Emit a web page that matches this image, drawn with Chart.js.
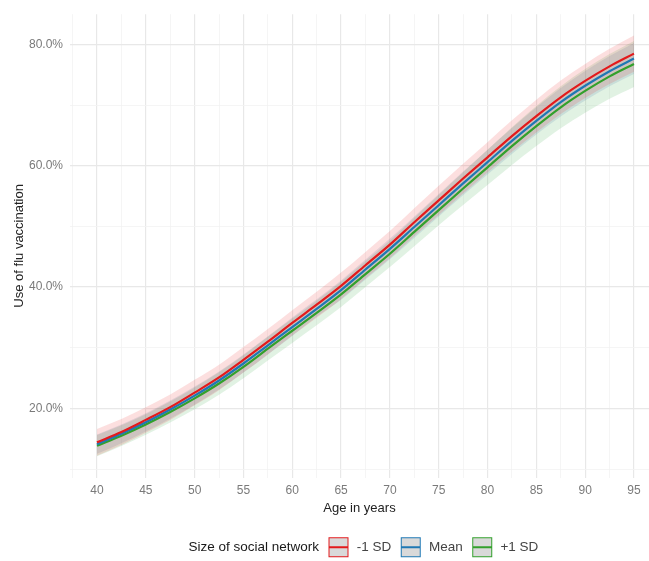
<!DOCTYPE html>
<html><head><meta charset="utf-8">
<script src="https://cdn.jsdelivr.net/npm/chart.js@4.4.1/dist/chart.umd.min.js"></script>
<style>html,body{margin:0;padding:0;background:#fff;overflow:hidden}</style>
</head><body>
<div style="width:649px;height:561px;position:relative"><canvas id="c"></canvas></div>
<script>
// ---- data ----
const ages = [40,42.5,45,47.5,50,52.5,55,57.5,60,62.5,65,67.5,70,72.5,75,77.5,80,82.5,85,87.5,90,92.5,95];
const seriesNames = ['-1 SD','Mean','+1 SD'];
const legendTitle = 'Size of social network';
const lowSD  = [14.4,16.1,18.1,20.2,22.6,25.1,28.0,31.0,34.1,37.1,40.2,43.6,47.0,50.7,54.3,57.9,61.4,64.9,68.2,71.3,74.0,76.4,78.5];
const meanSD = [14.1,15.8,17.7,19.8,22.1,24.6,27.4,30.4,33.4,36.4,39.5,42.9,46.3,49.9,53.5,57.1,60.6,64.1,67.4,70.5,73.2,75.6,77.7];
const highSD = [13.85,15.5,17.35,19.4,21.65,24.1,26.85,29.85,32.8,35.75,38.8,42.15,45.5,49.1,52.7,56.25,59.75,63.25,66.55,69.65,72.35,74.75,76.8];
const lowSDUpper  = [16.6,18.25,20.2,22.3,24.7,27.2,30.1,33.1,36.2,39.25,42.4,45.8,49.25,53.0,56.7,60.35,63.9,67.5,70.9,74.05,76.8,79.3,81.5];
const lowSDLower  = [12.2,13.95,16.0,18.1,20.5,23.0,25.9,28.9,32.0,34.95,38.0,41.4,44.75,48.4,51.9,55.45,58.9,62.3,65.5,68.55,71.2,73.5,75.5];
const meanUpper   = [15.7,17.35,19.2,21.3,23.6,26.1,28.9,31.9,35.0,38.0,41.1,44.55,48.0,51.65,55.35,59.05,62.65,66.25,69.65,72.85,75.65,78.1,80.25];
const meanLower   = [12.5,14.25,16.2,18.3,20.6,23.1,25.9,28.9,31.95,35.1,37.9,41.25,44.6,48.1,51.65,55.15,58.55,61.95,65.15,68.15,70.75,73.1,75.15];
const highSDUpper = [15.6,17.2,19.05,21.15,23.45,25.95,28.75,31.8,34.8,37.8,40.9,44.3,47.7,51.45,55.2,58.95,62.65,66.35,69.85,73.1,75.95,78.45,80.6];
const highSDLower = [12.1,13.8,15.65,17.65,19.85,22.25,24.95,27.9,30.8,33.7,36.7,40.0,43.3,46.75,50.2,53.55,56.85,60.15,63.25,66.2,68.75,71.05,73.0];
const xGridValues = [37.5,40,42.5,45,47.5,50,52.5,55,57.5,60,62.5,65,67.5,70,72.5,75,77.5,80,82.5,85,87.5,90,92.5,95];
const xTickValues = [40,45,50,55,60,65,70,75,80,85,90,95];
const xTickLabels = ['40','45','50','55','60','65','70','75','80','85','90','95'];
const yGridValues = [10,20,30,40,50,60,70,80];
const yTickValues = [20,40,60,80];
const yTickLabels = ['20.0%','40.0%','60.0%','80.0%'];

const lineColors = ['#E31A1C','#1F78B4','#33A02C'];
const bandColors = ['rgba(235,40,40,0.15)','rgba(60,110,160,0.15)','rgba(51,170,70,0.15)'];

const pts = arr => ages.map((a,i)=>({x:a,y:arr[i]}));

function keyImage(color){
  const c=document.createElement('canvas'); c.width=44; c.height=22;
  const g=c.getContext('2d');
  g.fillStyle='#d9d9d9'; g.fillRect(1,1,20,20);
  g.strokeStyle=color; g.lineWidth=1; g.strokeRect(1.5,1.5,19,19);
  g.beginPath(); g.moveTo(2,11); g.lineTo(20,11); g.lineWidth=2; g.stroke();
  return c;
}
const blank=document.createElement('canvas'); blank.width=1; blank.height=1;

const lineDs = (label,arr,col)=>({label,data:pts(arr),borderColor:col,borderWidth:2.2,pointRadius:0,fill:false,cubicInterpolationMode:'monotone'});
const edgeDs = (arr)=>({label:'edge',data:pts(arr),borderWidth:0,borderColor:'rgba(0,0,0,0)',pointRadius:0,fill:false,cubicInterpolationMode:'monotone'});
const bandDs = (arr,col)=>({label:'band',data:pts(arr),borderWidth:0,borderColor:'rgba(0,0,0,0)',pointRadius:0,fill:'-1',backgroundColor:col,cubicInterpolationMode:'monotone'});

const datasets = [
  lineDs(seriesNames[0],lowSD,lineColors[0]),
  lineDs(seriesNames[1],meanSD,lineColors[1]),
  lineDs(seriesNames[2],highSD,lineColors[2]),
  edgeDs(lowSDLower), bandDs(lowSDUpper,bandColors[0]),
  edgeDs(meanLower), bandDs(meanUpper,bandColors[1]),
  edgeDs(highSDLower), bandDs(highSDUpper,bandColors[2])
];

const FONT = '"Liberation Sans", Arial, sans-serif';

new Chart(document.getElementById('c'),{
  type:'line',
  data:{datasets},
  options:{
    responsive:true, maintainAspectRatio:false, animation:false,
    layout:{padding:{top:13,left:0,right:0,bottom:-3}},
    plugins:{
      tooltip:{enabled:false},
      legend:{
        position:'bottom', fullSize:false,
        labels:{
          usePointStyle:true, boxWidth:1, padding:30,
          font:{family:FONT,size:13.5}, color:'#333',
          generateLabels:()=>[
            {text:legendTitle,pointStyle:blank,fontColor:'#1a1a1a',lineWidth:0,hidden:false,strokeStyle:'rgba(0,0,0,0)',fillStyle:'rgba(0,0,0,0)'},
            ...seriesNames.map((n,i)=>({text:n,pointStyle:keyImage(lineColors[i]),fontColor:'#444',lineWidth:0,hidden:false,strokeStyle:lineColors[i],fillStyle:'#d9d9d9'}))
          ]
        }
      }
    },
    scales:{
      x:{
        type:'linear', min:37.235, max:96.54,
        afterBuildTicks:s=>{s.ticks=xGridValues.map(v=>({value:v}));},
        afterFit:s=>{s.height=33;},
        border:{display:false},
        grid:{drawTicks:false,
          color:c=>xTickValues.includes(c.tick.value)?'#e8e8e8':'#f3f3f3',
          lineWidth:c=>xTickValues.includes(c.tick.value)?1.2:0.8},
        ticks:{autoSkip:false,maxRotation:0,padding:6,color:'#7a7a7a',font:{family:FONT,size:12},
          callback:v=>{const i=xTickValues.indexOf(v);return i>=0?xTickLabels[i]:'';}},
        title:{display:true,text:'Age in years',color:'#222',font:{family:FONT,size:13},padding:{top:0,bottom:-6}}
      },
      y:{
        type:'linear', min:8.6, max:85.0,
        afterBuildTicks:s=>{s.ticks=yGridValues.map(v=>({value:v}));},
        afterFit:s=>{s.width=70;},
        border:{display:false},
        grid:{drawTicks:false,
          color:c=>yTickValues.includes(c.tick.value)?'#e8e8e8':'#f3f3f3',
          lineWidth:c=>yTickValues.includes(c.tick.value)?1.2:0.8},
        ticks:{autoSkip:false,padding:7,color:'#7a7a7a',font:{family:FONT,size:12},
          callback:v=>{const i=yTickValues.indexOf(v);return i>=0?yTickLabels[i]:'';}},
        title:{display:true,text:'Use of flu vaccination',color:'#222',font:{family:FONT,size:13},padding:{top:12,bottom:0}}
      }
    }
  }
});
</script>
</body></html>
